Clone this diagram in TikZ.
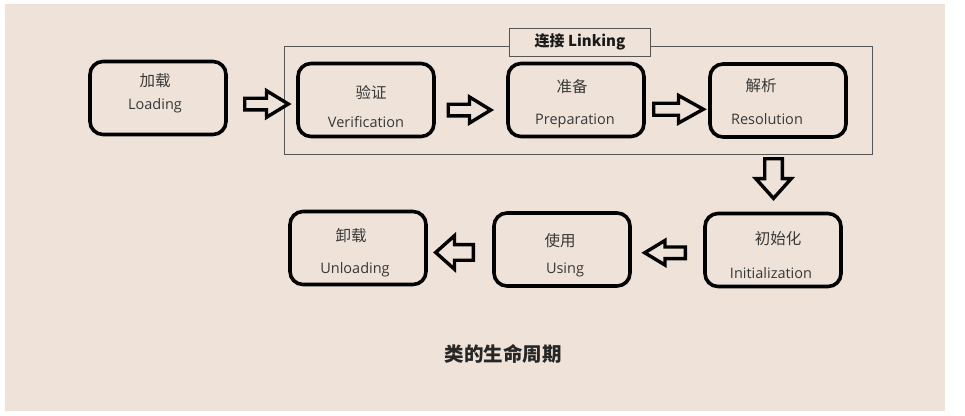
\documentclass[tikz,border=0pt]{standalone}
\usepackage{fontspec}
\setmainfont{Open Sans}
\newfontfamily\cjk{Noto Sans CJK SC}
\usetikzlibrary{calc}
\definecolor{bg}{RGB}{239,227,217}
\definecolor{txt}{RGB}{55,55,55}
\definecolor{frame}{RGB}{85,85,85}
\begin{document}
\begin{tikzpicture}[x=1pt,y=-1pt,
  stage/.style={draw=black,line width=3.6pt,rounded corners=13pt,minimum width=136pt,minimum height=73pt,inner sep=0pt},
  zh/.style={font=\cjk\fontsize{15.5}{17}\selectfont,text=txt,inner sep=0pt},
  en/.style={font=\fontsize{14.5}{17}\selectfont,text=txt,inner sep=0pt},
  blk/.style={draw=black,line width=3.4pt,fill=bg,line join=miter},
  pics/barrow/.style n args={3}{code={\draw[blk] (-#1,-#3) -- (0,-#3) -- (0,-#2) -- (#1,0) -- (0,#2) -- (0,#3) -- (-#1,#3) -- cycle;}}
]
\useasboundingbox (0,0) rectangle (965,415);
\fill[white] (0,0) rectangle (965,415);
\fill[bg] (5,4) rectangle (945,411);

% Linking frame
\node[draw=frame,line width=0.9pt,minimum width=588pt,minimum height=108pt,inner sep=0pt] (link) at (578,100) {};
\node[draw=frame,fill=bg,line width=0.9pt,minimum width=141pt,minimum height=28pt,inner sep=0pt,
      font=\cjk\bfseries\fontsize{15}{17}\selectfont,text=black!90] (linklabel) at (580,42) {连接 Linking};

% stages
\node[stage] (load) at (158,98) {};
\node[stage] (ver) at (366,100) {};
\node[stage] (prep) at (576,100) {};
\node[stage] (res) at (778,100.5) {};
\node[stage] (init) at (773,250) {};
\node[stage] (use) at (562,249.5) {};
\node[stage] (unl) at (358,248) {};

% texts
\node[zh] (t1a) at (155,81) {加载};
\node[en] (t1b) at (155,106) {Loading};
\node[zh] (t2a) at (371,92) {验证};
\node[en] (t2b) at (366,122) {Verification};
\node[zh] (t3a) at (572,87) {准备};
\node[en] (t3b) at (575,121) {Preparation};
\node[zh] (t4a) at (761,86) {解析};
\node[en] (t4b) at (767,119) {Resolution};
\node[zh] (t5a) at (778,239) {初始化};
\node[en] (t5b) at (771,273) {Initialization};
\node[zh] (t6a) at (560,241) {使用};
\node[en] (t6b) at (565,270) {Using};
\node[zh] (t7a) at (351,236) {卸载};
\node[en] (t7b) at (355,270) {Unloading};

\node[font=\cjk\bfseries\fontsize{19.5}{22}\selectfont,text=black!85,inner sep=0pt] (title) at (503,354) {类的生命周期};

% block arrows
\pic at ($(load.east)!0.5!(ver.west)+(4.5,5)$) {barrow={21.8}{13.3}{5.8}};
\pic at ($(ver.east)!0.5!(prep.west)+(-1.5,10)$) {barrow={21.3}{13}{5.8}};
\pic at ($(prep.east)!0.5!(res.west)+(1.5,9)$) {barrow={24.8}{13.8}{6}};
\pic[rotate=-90] at ($(res.south)!0.5!(init.north)+(-2,3.3)$) {barrow={19.8}{17.8}{8.8}};
\pic[rotate=180] at ($(init.west)!0.5!(use.east)+(-2.5,3)$) {barrow={20.3}{12.3}{5.8}};
\pic[rotate=180] at ($(use.west)!0.5!(unl.east)+(-5.5,3.7)$) {barrow={18.8}{16.8}{7.8}};
\end{tikzpicture}
\end{document}
